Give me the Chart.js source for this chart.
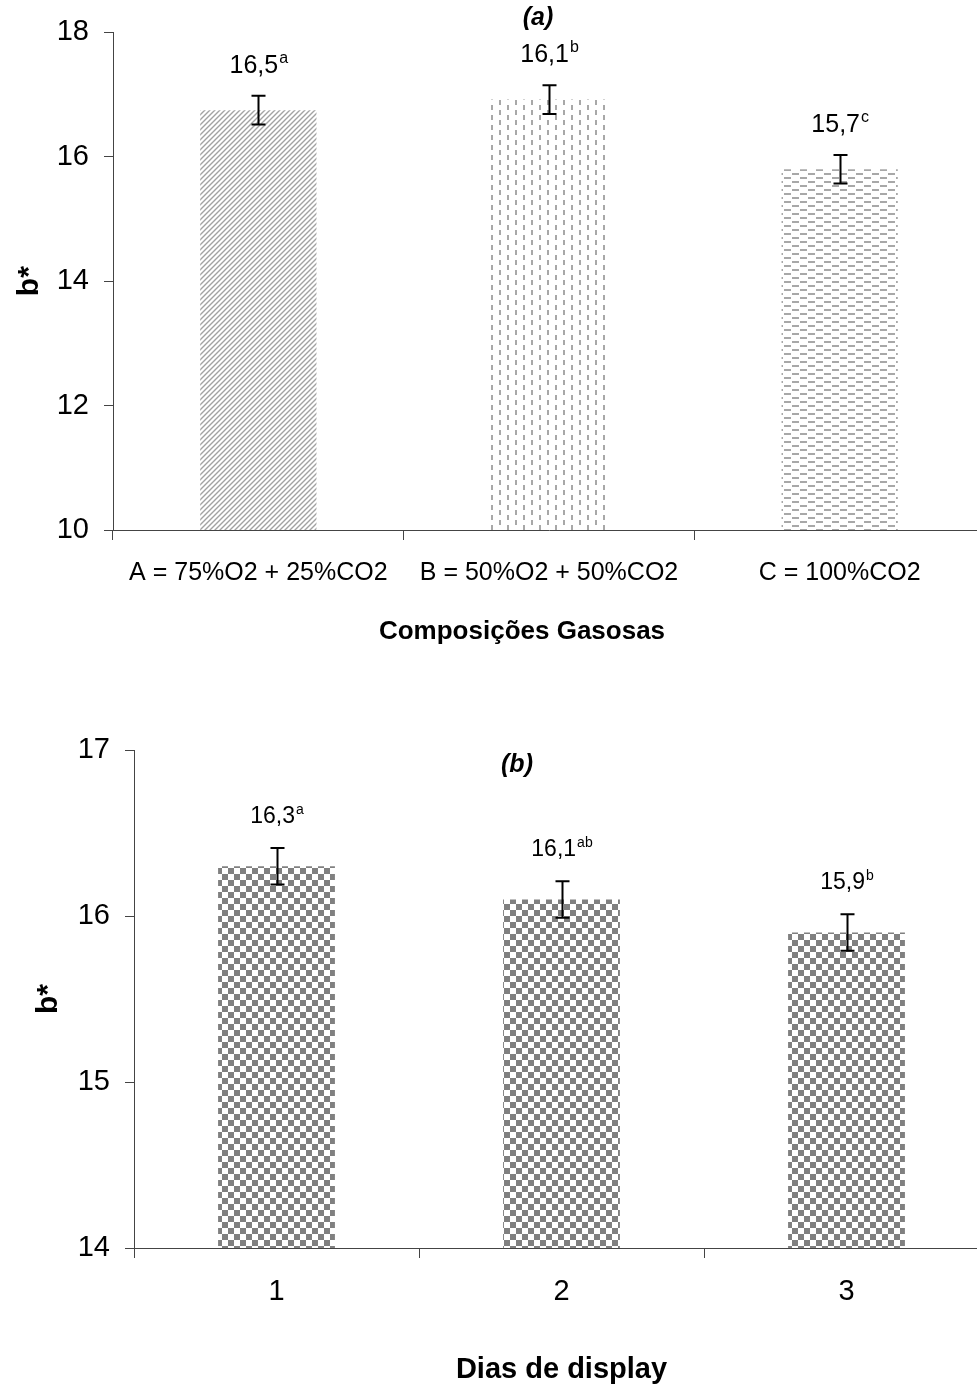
<!DOCTYPE html>
<html><head><meta charset="utf-8">
<script src="https://cdn.jsdelivr.net/npm/chart.js@4.4.1/dist/chart.umd.min.js"></script>
<style>
html,body{margin:0;padding:0;background:#fff;overflow:hidden;width:977px;height:1389px;position:relative;}
.box{position:absolute;left:0;}
#boxA{top:0;}
#boxB{top:700px;}
canvas{display:block;}
</style></head><body>
<div id="boxA" class="box"><canvas id="cA" width="985" height="665"></canvas></div>
<div id="boxB" class="box"><canvas id="cB" width="989" height="689"></canvas></div>
<script>
// ---- Data: chart (a) ----
const gasCategories = ['A = 75%O2 + 25%CO2', 'B = 50%O2 + 50%CO2', 'C = 100%CO2'];
const gasMeans = [16.75, 16.92, 15.8];
const gasErrors = [0.23, 0.23, 0.23];
const gasValueLabels = ['16,5', '16,1', '15,7'];
const gasLetters = ['a', 'b', 'c'];
const gasYTicks = [10, 12, 14, 16, 18];

// ---- Data: chart (b) ----
const dayCategories = ['1', '2', '3'];
const dayMeans = [16.3, 16.1, 15.9];
const dayErrors = [0.11, 0.11, 0.11];
const dayValueLabels = ['16,3', '16,1', '15,9'];
const dayLetters = ['a', 'ab', 'b'];
const dayYTicks = [14, 15, 16, 17];

const FONT = '"Liberation Sans", Arial, Helvetica, sans-serif';
Chart.defaults.font.family = FONT;
Chart.defaults.color = '#000';

function makeTile(w, h, draw) {
  const c = document.createElement('canvas');
  c.width = w; c.height = h;
  const g = c.getContext('2d');
  g.fillStyle = '#fff'; g.fillRect(0, 0, w, h);
  draw(g, w, h);
  return document.createElement('canvas').getContext('2d').createPattern(c, 'repeat');
}
const patDiag = makeTile(5, 5, (g, w, h) => {
  g.strokeStyle = '#a2a2a2'; g.lineWidth = 1.4;
  g.beginPath();
  g.moveTo(-1, h + 1); g.lineTo(w + 1, -1);
  g.moveTo(-1, 1); g.lineTo(1, -1);
  g.moveTo(w - 1, h + 1); g.lineTo(w + 1, h - 1);
  g.stroke();
});
const patVert = makeTile(16, 10, (g) => {
  g.fillStyle = '#a8a8a8';
  g.fillRect(3, 0, 2, 5);
  g.fillRect(11, 5, 2, 5);
});
const patHoriz = makeTile(16, 8, (g) => {
  g.fillStyle = '#a8a8a8';
  g.fillRect(0, 1, 7, 2);
  g.fillRect(8, 5, 7, 2);
});
const patChecker = makeTile(12, 12, (g) => {
  g.fillStyle = '#808080';
  g.fillRect(0, 0, 6, 6);
  g.fillRect(6, 6, 6, 6);
});

const errorBarPlugin = {
  id: 'errorBars',
  afterDatasetsDraw(chart, args, o) {
    const { ctx } = chart;
    const y = chart.scales.y;
    const meta = chart.getDatasetMeta(0);
    const ds = chart.data.datasets[0];
    ctx.save();
    meta.data.forEach((bar, i) => {
      const v = ds.data[i], e = o.errors[i];
      const yt = y.getPixelForValue(v + e), yb = y.getPixelForValue(v - e);
      const x = Math.round(bar.x) + 0.5, c = o.capHalf;
      ctx.strokeStyle = '#000'; ctx.lineWidth = o.lineWidth;
      ctx.beginPath();
      ctx.moveTo(x, yt); ctx.lineTo(x, yb);
      ctx.moveTo(x - c, yt); ctx.lineTo(x + c, yt);
      ctx.moveTo(x - c, yb); ctx.lineTo(x + c, yb);
      ctx.stroke();
      const main = o.labels[i], sup = o.letters[i];
      const mf = `${o.fontSize}px ${FONT}`, sf = `${o.supSize}px ${FONT}`;
      ctx.font = mf; const w1 = ctx.measureText(main).width;
      ctx.font = sf; const w2 = ctx.measureText(sup).width;
      const start = bar.x - (w1 + w2) / 2;
      const base = yt - o.gap;
      ctx.fillStyle = '#000'; ctx.textAlign = 'left'; ctx.textBaseline = 'alphabetic';
      ctx.font = mf; ctx.fillText(main, start, base);
      ctx.font = sf; ctx.fillText(sup, start + w1 + 1, base - o.supRise);
    });
    ctx.restore();
  }
};

const textsPlugin = {
  id: 'extraTexts',
  afterDraw(chart, args, o) {
    const { ctx } = chart;
    ctx.save();
    ctx.fillStyle = '#000'; ctx.textAlign = 'center'; ctx.textBaseline = 'middle';
    (o.items || []).forEach(t => {
      ctx.font = `${t.style || ''} bold ${t.size}px ${FONT}`;
      ctx.fillText(t.text, t.x, t.y);
    });
    ctx.restore();
  }
};

function makeChart(id, cfg) {
  const ticks = cfg.yTicks;
  return new Chart(document.getElementById(id), {
    type: 'bar',
    data: {
      labels: cfg.categories,
      datasets: [{
        data: cfg.means,
        backgroundColor: cfg.patterns,
        borderWidth: 0,
        barPercentage: cfg.barPct,
        categoryPercentage: 1
      }]
    },
    options: {
      responsive: false,
      animation: false,
      layout: { padding: { top: cfg.top, left: 0, right: 0, bottom: 0 } },
      plugins: {
        legend: { display: false },
        tooltip: { enabled: false },
        errorBars: cfg.err,
        extraTexts: { items: cfg.texts }
      },
      scales: {
        x: {
          afterFit: s => { s.height = cfg.xHeight; },
          border: { color: '#444', width: 1 },
          grid: { display: true, drawOnChartArea: false, drawTicks: true, tickLength: 10, color: '#444', offset: true },
          ticks: { font: { size: cfg.xFont }, padding: cfg.xPad, maxRotation: 0, autoSkip: false, color: '#000' },
          title: { display: cfg.xTitleOnAxis, text: cfg.xTitle, font: { size: cfg.xTitleSize, weight: 'bold' }, padding: { top: 0, bottom: cfg.xTitlePad }, color: '#000' }
        },
        y: {
          min: ticks[0], max: ticks[ticks.length - 1],
          afterFit: s => { s.width = cfg.yWidth; },
          afterBuildTicks: s => { s.ticks = ticks.map(v => ({ value: v })); },
          border: { color: '#444', width: 1 },
          grid: { display: true, drawOnChartArea: false, drawTicks: true, tickLength: 9, color: '#444' },
          ticks: { font: { size: cfg.yFont }, padding: 15, color: '#000', callback: v => String(v) },
          title: { display: true, text: 'b*', font: { size: 30, weight: 'bold' }, padding: { top: cfg.yTitlePad, bottom: 0 }, color: '#000' }
        }
      }
    },
    plugins: [errorBarPlugin, textsPlugin]
  });
}

makeChart('cA', {
  categories: gasCategories, means: gasMeans, yTicks: gasYTicks,
  patterns: [patDiag, patVert, patHoriz], barPct: 0.4,
  top: 32, xHeight: 135, yWidth: 113, xFont: 25, xPad: 18, yFont: 29,
  xTitle: 'Composições Gasosas', xTitleOnAxis: false, xTitleSize: 26, xTitlePad: 17, yTitlePad: 12,
  err: { errors: gasErrors, labels: gasValueLabels, letters: gasLetters, capHalf: 7, lineWidth: 2, fontSize: 25, supSize: 16, supRise: 10, gap: 23 },
  texts: [
    { text: '(a)', x: 538, y: 18, size: 25, style: 'italic' },
    { text: 'Composições Gasosas', x: 522, y: 632, size: 26 }
  ]
});

makeChart('cB', {
  categories: dayCategories, means: dayMeans, yTicks: dayYTicks,
  patterns: [patChecker, patChecker, patChecker], barPct: 0.41,
  top: 50, xHeight: 141, yWidth: 134, xFont: 29, xPad: 17, yFont: 29,
  xTitle: 'Dias de display', xTitleOnAxis: true, xTitleSize: 29, xTitlePad: 2, yTitlePad: 31,
  err: { errors: dayErrors, labels: dayValueLabels, letters: dayLetters, capHalf: 7, lineWidth: 2, fontSize: 23, supSize: 14, supRise: 9, gap: 25 },
  texts: [
    { text: '(b)', x: 517, y: 65, size: 25, style: 'italic' }
  ]
});
</script>
</body></html>
